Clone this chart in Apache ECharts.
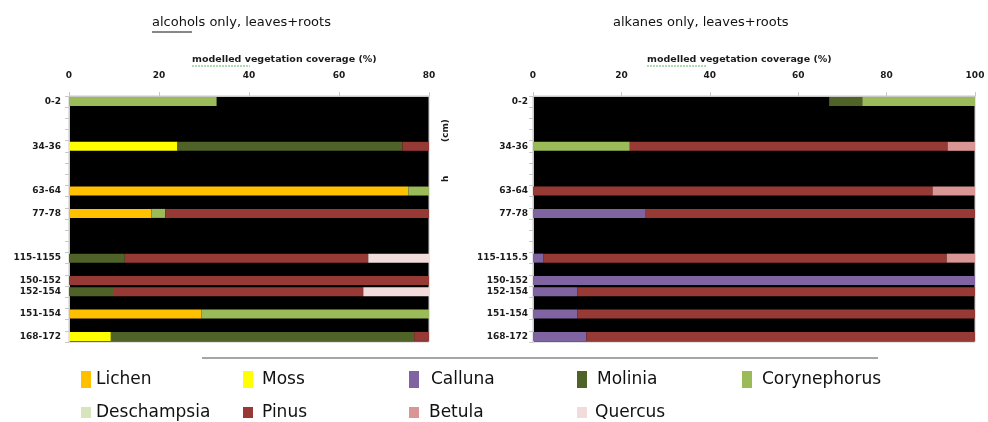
<!DOCTYPE html>
<html>
<head>
<meta charset="utf-8">
<script src="https://cdn.jsdelivr.net/npm/echarts@6/dist/echarts.min.js"></script>
<style>html,body{margin:0;padding:0;background:#fff;}#c{width:988px;height:422px;}</style>
</head>
<body>
<div id="c"></div>
<script>
// Depth categories (blank strings are empty slots on the depth axis)
const catsAlcohols = ['0-2','','','','34-36','','','','63-64','','77-78','','','','115-1155','','150-152','152-154','','151-154','','168-172'];
const catsAlkanes  = ['0-2','','','','34-36','','','','63-64','','77-78','','','','115-115.5','','150-152','152-154','','151-154','','168-172'];

const speciesNames = ['Lichen','Moss','Calluna','Molinia','Corynephorus','Deschampsia','Pinus','Betula','Quercus'];
const speciesColors = ['#FFC000','#FFFF00','#8064A2','#4F6228','#9BBB59','#D7E4BD','#973A36','#D99694','#F2DCDB'];

// alcohols only, leaves+roots (rows: 0-2, 34-36, 63-64, 77-78, 115-115.5, 150-152, 152-154, 151-154, 168-172)
const lichenA  = [0, 0, 75.4, 18.3, 0, 0, 0, 29.4, 0];
const mossA    = [0, 24.1, 0, 0, 0, 0, 0, 0, 9.3];
const callunaA = [0, 0, 0, 0, 0, 0, 0, 0, 0];
const moliniaA = [0, 50.0, 0, 0, 12.4, 0, 10.0, 0, 67.4];
const coryA    = [32.8, 0, 24.6, 3.1, 0, 0, 0, 70.6, 0];
const deschA   = [0, 0, 0, 0, 0, 0, 0, 0, 0];
const pinusA   = [0, 25.9, 0, 78.6, 54.1, 100, 55.4, 0, 23.3];
const betulaA  = [0, 0, 0, 0, 0, 0, 0, 0, 0];
const quercusA = [0, 0, 0, 0, 33.5, 0, 34.6, 0, 0];

// alkanes only, leaves+roots
const blankK   = [67.0, 0, 0, 0, 0, 0, 0, 0, 0];
const lichenK  = [0, 0, 0, 0, 0, 0, 0, 0, 0];
const mossK    = [0, 0, 0, 0, 0, 0, 0, 0, 0];
const callunaK = [0, 0, 0, 25.5, 2.3, 100, 10.0, 10.0, 12.1];
const moliniaK = [7.5, 0, 0, 0, 0, 0, 0, 0, 0];
const coryK    = [25.5, 21.9, 0, 0, 0, 0, 0, 0, 0];
const deschK   = [0, 0, 0, 0, 0, 0, 0, 0, 0];
const pinusK   = [0, 71.9, 90.4, 74.5, 91.3, 0, 90.0, 90.0, 87.9];
const betulaK  = [0, 6.2, 9.6, 0, 6.4, 0, 0, 0, 0];
const quercusK = [0, 0, 0, 0, 0, 0, 0, 0, 0];

const xTicksA = [0, 20, 40, 60, 80];
const xTicksK = [0, 20, 40, 60, 80, 100];

const valuesA = [lichenA, mossA, callunaA, moliniaA, coryA, deschA, pinusA, betulaA, quercusA];
const valuesK = [lichenK, mossK, callunaK, moliniaK, coryK, deschK, pinusK, betulaK, quercusK];

function expand(cats, vals) {
  let i = 0;
  return cats.map(c => {
    if (c === '') return '-';
    const v = vals[i++];
    return v === 0 ? '-' : v;
  });
}

const labelFont = {fontFamily: 'DejaVu Sans', fontWeight: 'bold', fontSize: 9, color: '#1a1a1a'};

function yAxis(gridIndex, cats, margin) {
  return {
    type: 'category', gridIndex: gridIndex, data: cats, inverse: true,
    axisLine: {show: true, lineStyle: {color: '#c8c8c8', width: 1}},
    axisTick: {show: true, interval: 0, length: 4, lineStyle: {color: '#c8c8c8'}},
    axisLabel: Object.assign({interval: 0, margin: margin}, labelFont),
    splitLine: {show: false}
  };
}
function xAxis(gridIndex, ticks) {
  return {
    type: 'value', gridIndex: gridIndex, position: 'top',
    min: ticks[0], max: ticks[ticks.length - 1], interval: ticks[1] - ticks[0],
    axisLine: {show: true, lineStyle: {color: '#c8c8c8'}},
    axisTick: {show: true, length: 4, lineStyle: {color: '#c8c8c8'}},
    axisLabel: Object.assign({margin: 16}, labelFont),
    splitLine: {show: false}
  };
}

const series = [];
speciesNames.forEach((name, k) => {
  series.push({
    name: name, type: 'bar', stack: 'a', xAxisIndex: 0, yAxisIndex: 0,
    barWidth: 9, itemStyle: {color: speciesColors[k]},
    data: expand(catsAlcohols, valuesA[k])
  });
});
series.push({
  name: 'blank', type: 'bar', stack: 'k', xAxisIndex: 1, yAxisIndex: 1,
  barWidth: 9, itemStyle: {color: 'rgba(0,0,0,0)'}, silent: true,
  data: expand(catsAlkanes, blankK)
});
speciesNames.forEach((name, k) => {
  series.push({
    name: name, type: 'bar', stack: 'k', xAxisIndex: 1, yAxisIndex: 1,
    barWidth: 9, itemStyle: {color: speciesColors[k]},
    data: expand(catsAlkanes, valuesK[k])
  });
});

// legend: one component per item, laid out in a 5 + 4 grid
const legendCols = [81, 243, 409, 577, 742];
const legendTextPad = [0, 4, 7, 5, 5, 0, 4, 5, 3];
const legends = speciesNames.map((name, k) => {
  const row = k < 5 ? 0 : 1;
  const col = k < 5 ? k : k - 5;
  return {
    data: [name], left: legendCols[col], top: row === 0 ? 371 : 404,
    padding: 0,
    icon: 'rect', itemWidth: 10, itemHeight: row === 0 ? 17 : 11, itemGap: 0,
    selectedMode: false,
    textStyle: {fontFamily: 'DejaVu Sans', fontSize: 17, color: '#111', padding: [2, 0, 0, legendTextPad[k]]}
  };
});

const option = {
  animation: false,
  backgroundColor: '#fff',
  grid: [
    {left: 69, top: 96, width: 360, height: 246, show: true, backgroundColor: '#000', borderColor: '#c8c8c8', borderWidth: 1},
    {left: 533, top: 96, width: 442, height: 246, show: true, backgroundColor: '#000', borderColor: '#c8c8c8', borderWidth: 1}
  ],
  xAxis: [xAxis(0, xTicksA), xAxis(1, xTicksK)],
  yAxis: [yAxis(0, catsAlcohols, 8), yAxis(1, catsAlkanes, 5)],
  legend: legends,
  series: series,
  graphic: [
    {type: 'text', left: 152, top: 16, style: {text: 'alcohols only, leaves+roots', font: '13px "DejaVu Sans"', fill: '#111'}},
    {type: 'line', shape: {x1: 152, y1: 32, x2: 192, y2: 32}, style: {stroke: '#111', lineWidth: 1}},
    {type: 'text', left: 613, top: 16, style: {text: 'alkanes only, leaves+roots', font: '13px "DejaVu Sans"', fill: '#111'}},
    {type: 'text', left: 192, top: 55, style: {text: 'modelled vegetation coverage (%)', font: 'bold 9.5px "DejaVu Sans"', fill: '#1a1a1a'}},
    {type: 'line', shape: {x1: 192, y1: 66, x2: 250, y2: 66}, style: {stroke: '#5cb85c', lineWidth: 1, lineDash: [2, 1]}},
    {type: 'text', left: 647, top: 55, style: {text: 'modelled vegetation coverage (%)', font: 'bold 9.5px "DejaVu Sans"', fill: '#1a1a1a'}},
    {type: 'line', shape: {x1: 647, y1: 66, x2: 707, y2: 66}, style: {stroke: '#5cb85c', lineWidth: 1, lineDash: [2, 1]}},
    {type: 'text', x: 441, y: 142, rotation: Math.PI / 2, style: {text: '(cm)', font: 'bold 9px "DejaVu Sans"', fill: '#1a1a1a'}},
    {type: 'text', x: 441, y: 182, rotation: Math.PI / 2, style: {text: 'h', font: 'bold 9px "DejaVu Sans"', fill: '#1a1a1a'}},
    {type: 'line', shape: {x1: 202, y1: 358, x2: 878, y2: 358}, style: {stroke: '#a6a6a6', lineWidth: 2}}
  ]
};

const chart = echarts.init(document.getElementById('c'), null, {renderer: 'canvas'});
chart.setOption(option);
</script>
</body>
</html>
